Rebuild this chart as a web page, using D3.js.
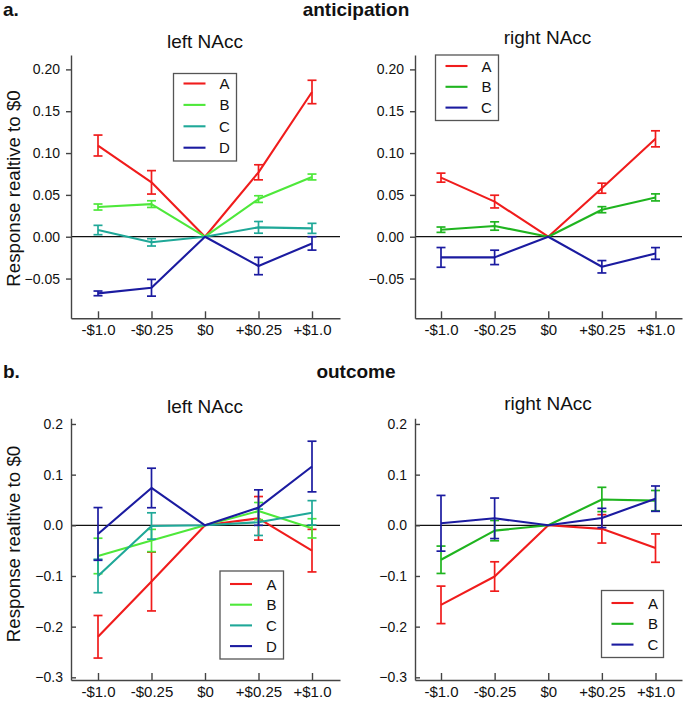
<!DOCTYPE html>
<html><head><meta charset="utf-8">
<script src="https://cdn.jsdelivr.net/npm/d3@7"></script>
<style>body{margin:0;background:#fff;}svg{display:block;font-family:"Liberation Sans",Arial,sans-serif;}</style>
</head><body><svg id="c" width="685" height="701"></svg>
<script>
// ---------- data ----------
const xLabels = ["-$1.0", "-$0.25", "$0", "+$0.25", "+$1.0"];
const namesLeft = ["A", "B", "C", "D"];
const namesRight = ["A", "B", "C"];
const colorsLeft = ["#f01c1c", "#4ee83a", "#1fa898", "#1b1ba0"];
const colorsRight = ["#f01c1c", "#1fb41f", "#1b1ba0"];
const ticksAnt = [-0.05, 0, 0.05, 0.10, 0.15, 0.20];
const ticksOut = [-0.3, -0.2, -0.1, 0, 0.1, 0.2];

// anticipation, left NAcc
const antLeftA = [0.109, 0.065, 0, 0.077, 0.173];
const antLeftAErr = [0.0125, 0.014, 0, 0.009, 0.014];
const antLeftB = [0.0355, 0.039, 0, 0.045, 0.0714];
const antLeftBErr = [0.0036, 0.004, 0, 0.004, 0.0035];
const antLeftC = [0.008, -0.0067, 0, 0.0112, 0.010];
const antLeftCErr = [0.0056, 0.0044, 0, 0.007, 0.006];
const antLeftD = [-0.0677, -0.061, 0, -0.035, -0.008];
const antLeftDErr = [0.0028, 0.010, 0, 0.0104, 0.008];
// anticipation, right NAcc
const antRightA = [0.0706, 0.042, 0, 0.058, 0.117];
const antRightAErr = [0.0054, 0.0076, 0, 0.006, 0.0096];
const antRightB = [0.0084, 0.0128, 0, 0.0323, 0.047];
const antRightBErr = [0.0032, 0.005, 0, 0.0036, 0.0042];
const antRightC = [-0.0247, -0.0247, 0, -0.0359, -0.020];
const antRightCErr = [0.0118, 0.0086, 0, 0.0074, 0.007];
// outcome, left NAcc
const outLeftA = [-0.220, -0.111, 0, 0.0138, -0.050];
const outLeftAErr = [0.042, 0.058, 0, 0.043, 0.042];
const outLeftB = [-0.0605, -0.030, 0, 0.028, -0.006];
const outLeftBErr = [0.035, 0.022, 0, 0.017, 0.019];
const outLeftC = [-0.100, -0.0013, 0, 0.006, 0.0247];
const outLeftCErr = [0.033, 0.026, 0, 0.026, 0.024];
const outLeftD = [-0.017, 0.0737, 0, 0.035, 0.116];
const outLeftDErr = [0.052, 0.039, 0, 0.035, 0.050];
// outcome, right NAcc
const outRightA = [-0.157, -0.101, 0, -0.007, -0.045];
const outRightAErr = [0.037, 0.029, 0, 0.028, 0.028];
const outRightB = [-0.068, -0.0105, 0, 0.051, 0.0487];
const outRightBErr = [0.027, 0.020, 0, 0.024, 0.020];
const outRightC = [0.004, 0.0138, 0, 0.0145, 0.0526];
const outRightCErr = [0.055, 0.040, 0, 0.019, 0.025];

// ---------- drawing ----------
const svg = d3.select("#c");
const FONT = '"Liberation Sans",Arial,sans-serif';

function panel(cfg) {
  const g = svg.append("g");
  const d = (cfg.x4 - cfg.x0) / 4;
  const x = d3.scaleLinear()
    .domain([-(cfg.x0 - cfg.left) / d, 4 + (cfg.right - cfg.x4) / d])
    .range([cfg.left, cfg.right]);
  const y = d3.scaleLinear().domain(cfg.yDomain).range([cfg.bottom, cfg.top]);

  // zero line
  g.append("line").attr("x1", cfg.left).attr("x2", cfg.right)
    .attr("y1", y(0)).attr("y2", y(0)).attr("stroke", "#111").attr("stroke-width", 1.2);

  // y axis
  const ya = d3.axisLeft(y).tickValues(cfg.yTicks).tickFormat(d3.format(cfg.yFmt))
    .tickSizeOuter(0).tickSizeInner(cfg.yTickSize).tickPadding(cfg.yPad);
  const gy = g.append("g").attr("transform", `translate(${cfg.left},0)`).call(ya);
  gy.selectAll("path,line").attr("stroke", "#444").attr("stroke-width", 1.4);
  gy.selectAll("text").attr("font-size", 14).attr("font-family", FONT).attr("fill", "#111");

  // x axis
  const xa = d3.axisBottom(x).tickValues([0, 1, 2, 3, 4]).tickFormat(i => xLabels[i])
    .tickSizeOuter(0).tickSizeInner(-7).tickPadding(6);
  const gx = g.append("g").attr("transform", `translate(0,${cfg.bottom})`).call(xa);
  gx.selectAll("path,line").attr("stroke", "#444").attr("stroke-width", 1.4);
  gx.selectAll("text").attr("font-size", 15).attr("font-family", FONT).attr("fill", "#111");

  // title
  g.append("text").attr("x", cfg.titleX).attr("y", cfg.titleY).attr("text-anchor", "middle")
    .attr("font-size", 19).attr("fill", "#111").text(cfg.title);

  // series
  cfg.series.forEach((s, k) => {
    const col = cfg.colors[k];
    const line = d3.line().x((v, i) => x(i)).y(v => y(v));
    g.append("path").attr("d", line(s.v)).attr("fill", "none")
      .attr("stroke", col).attr("stroke-width", 2.1).attr("stroke-linejoin", "round");
    s.v.forEach((v, i) => {
      const e = s.e[i];
      if (!e) return;
      const eg = g.append("g").attr("stroke", col).attr("stroke-width", 1.7);
      eg.append("line").attr("x1", x(i)).attr("x2", x(i)).attr("y1", y(v - e)).attr("y2", y(v + e));
      [v - e, v + e].forEach(t => eg.append("line").attr("x1", x(i) - 4.5).attr("x2", x(i) + 4.5)
        .attr("y1", y(t)).attr("y2", y(t)));
    });
  });

  // legend
  const L = cfg.legend;
  const lg = g.append("g");
  lg.append("rect").attr("x", L.x).attr("y", L.y).attr("width", L.w).attr("height", L.h)
    .attr("fill", "#fff").attr("stroke", "#555").attr("stroke-width", 1.3);
  cfg.names.forEach((n, k) => {
    const cy = L.y + L.first + k * L.step;
    lg.append("line").attr("x1", L.x + 10).attr("x2", L.x + 32).attr("y1", cy).attr("y2", cy)
      .attr("stroke", cfg.colors[k]).attr("stroke-width", 2.1);
    lg.append("text").attr("x", L.x + L.tx).attr("y", cy + 5.5).attr("text-anchor", "middle")
      .attr("font-size", 15).attr("fill", "#111").text(n);
  });
  return {x, y};
}

const leftCols = {left: 71, x0: 98, x4: 312, right: 340};
const rightCols = {left: 415, x0: 441, x4: 655.5, right: 682};
const topRows = {top: 55, bottom: 318.3, yDomain: [-0.0975, 0.2172], yTicks: ticksAnt, yFmt: ".2f", yTickSize: 5, yPad: 6};
const botRows = {top: 418.3, bottom: 680, yDomain: [-0.3053, 0.2112], yTicks: ticksOut, yFmt: ".1f", yTickSize: -5, yPad: 8};

panel(Object.assign({}, leftCols, topRows, {
  title: "left NAcc", titleX: 205, titleY: 48, names: namesLeft, colors: colorsLeft,
  series: [{v: antLeftA, e: antLeftAErr}, {v: antLeftB, e: antLeftBErr}, {v: antLeftC, e: antLeftCErr}, {v: antLeftD, e: antLeftDErr}],
  legend: {x: 173.5, y: 73.5, w: 63, h: 87.5, first: 10, step: 21.4, tx: 51}
}));
panel(Object.assign({}, rightCols, topRows, {
  title: "right NAcc", titleX: 547.5, titleY: 44, names: namesRight, colors: colorsRight,
  series: [{v: antRightA, e: antRightAErr}, {v: antRightB, e: antRightBErr}, {v: antRightC, e: antRightCErr}],
  legend: {x: 435.5, y: 55, w: 63, h: 65.5, first: 11, step: 20.8, tx: 51}
}));
panel(Object.assign({}, leftCols, botRows, {
  title: "left NAcc", titleX: 205, titleY: 413, names: namesLeft, colors: colorsLeft,
  series: [{v: outLeftA, e: outLeftAErr}, {v: outLeftB, e: outLeftBErr}, {v: outLeftC, e: outLeftCErr}, {v: outLeftD, e: outLeftDErr}],
  legend: {x: 220, y: 571, w: 63.5, h: 88, first: 13, step: 20.7, tx: 51.5}
}));
panel(Object.assign({}, rightCols, botRows, {
  title: "right NAcc", titleX: 548, titleY: 410, names: namesRight, colors: colorsRight,
  series: [{v: outRightA, e: outRightAErr}, {v: outRightB, e: outRightBErr}, {v: outRightC, e: outRightCErr}],
  legend: {x: 601.5, y: 590.5, w: 62, h: 67, first: 12.5, step: 20.8, tx: 51.5}
}));

// y-axis labels
[188.5, 544].forEach(cy => {
  svg.append("text").attr("transform", `translate(20,${cy}) rotate(-90)`).attr("text-anchor", "middle")
    .attr("font-size", 18.7).attr("fill", "#111").text("Response realtive to $0");
});

// section headings
svg.append("text").attr("x", 3).attr("y", 16).attr("font-size", 19).attr("font-weight", "bold").attr("fill", "#111").text("a.");
svg.append("text").attr("x", 356).attr("y", 16).attr("text-anchor", "middle").attr("font-size", 19).attr("font-weight", "bold").attr("fill", "#111").text("anticipation");
svg.append("text").attr("x", 3).attr("y", 378).attr("font-size", 19).attr("font-weight", "bold").attr("fill", "#111").text("b.");
svg.append("text").attr("x", 356).attr("y", 378).attr("text-anchor", "middle").attr("font-size", 19).attr("font-weight", "bold").attr("fill", "#111").text("outcome");
</script></body></html>
